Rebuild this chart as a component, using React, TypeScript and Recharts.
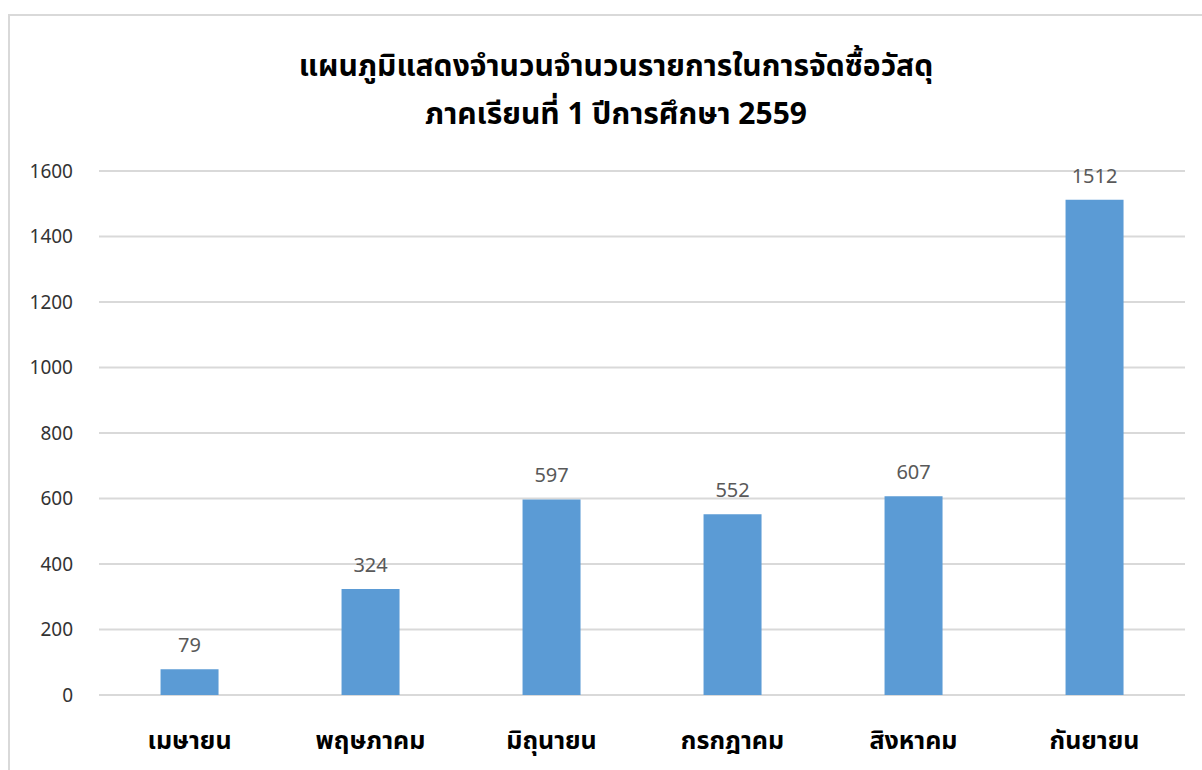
import React from "react";
import { BarChart, Bar, XAxis, YAxis, CartesianGrid, LabelList } from "recharts";

const months = ["เมษายน", "พฤษภาคม", "มิถุนายน", "กรกฎาคม", "สิงหาคม", "กันยายน"];
const counts = [79, 324, 597, 552, 607, 1512];
const yTicks = [0, 200, 400, 600, 800, 1000, 1200, 1400, 1600];
const titleLines = ["แผนภูมิแสดงจำนวนจำนวนรายการในการจัดซื้อวัสดุ", "ภาคเรียนที่ 1 ปีการศึกษา 2559"];

const data = months.map((m, i) => ({ month: m, value: counts[i] }));

const FONT = "'Noto Sans', 'Noto Sans Thai', Tahoma, sans-serif";

export default function App() {
  return (
    <div
      style={{
        position: "fixed",
        left: 8,
        top: 14,
        width: 1194,
        height: 756,
        borderTop: "2px solid #d9d9d9",
        borderLeft: "2px solid #d9d9d9",
        background: "#fff",
        fontFamily: FONT,
      }}
    >
      <div
        style={{
          position: "absolute",
          left: 0,
          width: 1212,
          top: 25,
          textAlign: "center",
          fontSize: 30,
          fontWeight: 700,
          lineHeight: "48px",
          color: "#000",
        }}
      >
        {titleLines.map((t) => (
          <div key={t}>{t}</div>
        ))}
      </div>
      <BarChart
        width={1192}
        height={754}
        data={data}
        margin={{ top: 155, right: 17, bottom: 0, left: 0 }}
        barCategoryGap="34%"
      >
        <CartesianGrid horizontal vertical={false} stroke="#d9d9d9" strokeWidth={2} />
        <XAxis
          dataKey="month"
          axisLine={false}
          tickLine={false}
          height={75}
          tickMargin={30}
          tick={{ fontSize: 25, fontWeight: 700, fill: "#000", fontFamily: FONT }}
        />
        <YAxis
          domain={[0, 1600]}
          ticks={yTicks}
          axisLine={false}
          tickLine={false}
          width={89}
          tickMargin={20}
          tick={{ fontSize: 19, fill: "#333", fontFamily: FONT }}
        />
        <Bar dataKey="value" fill="#5b9bd5" isAnimationActive={false}>
          <LabelList dataKey="value" position="top" offset={17} fill="#595959" fontSize={20} fontFamily={FONT} />
        </Bar>
      </BarChart>
    </div>
  );
}
